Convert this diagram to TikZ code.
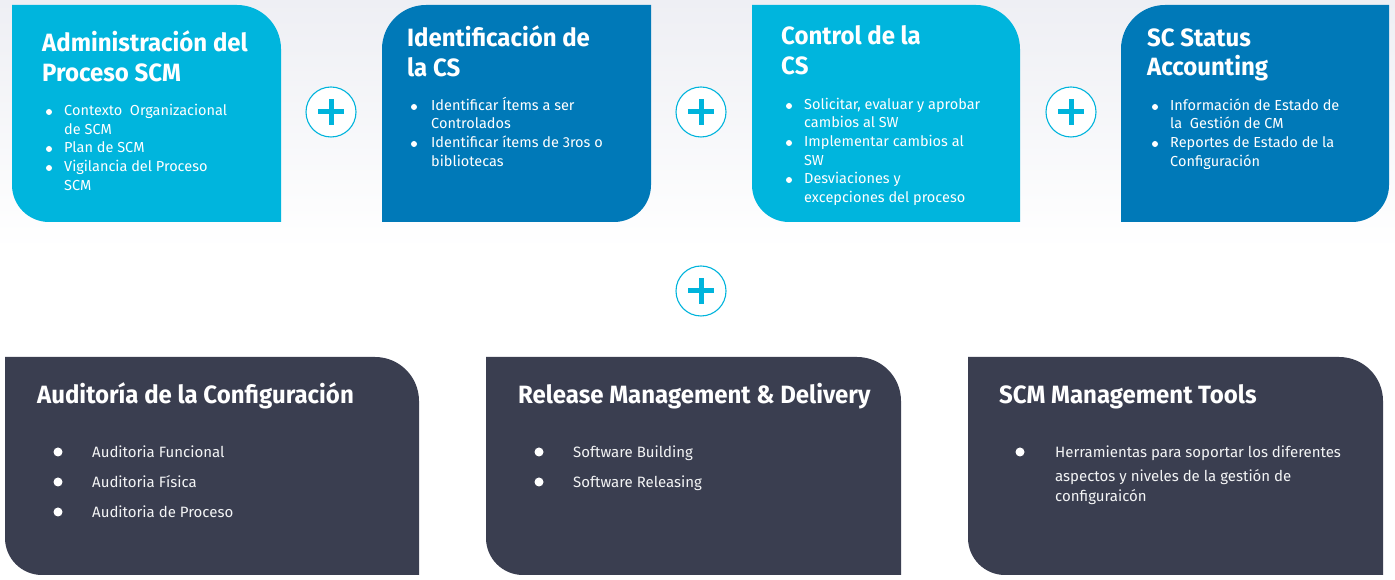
\documentclass[tikz,border=0pt]{standalone}
\usepackage{fontspec}
\setmainfont{Fira Sans}
\newfontfamily\headfont{Fira Sans}[FakeStretch=0.96]
\newfontfamily\bodyfont{Fira Sans}[FakeStretch=1.0]

\definecolor{cyanbox}{RGB}{0,181,221}
\definecolor{bluebox}{RGB}{0,121,184}
\definecolor{darkbox}{RGB}{58,62,80}
\definecolor{plusblue}{RGB}{0,180,220}
\definecolor{bgtop}{RGB}{238,239,244}

\tikzset{
  headtxt/.style={anchor=base west, inner sep=0pt, text=white, font=\headfont\bfseries\fontsize{25}{30}\selectfont},
  toptxt/.style={anchor=base west, inner sep=0pt, text=white, font=\bodyfont\fontsize{14.5}{18.8}\selectfont},
  lowtxt/.style={anchor=base west, inner sep=0pt, text=white!94!darkbox, font=\bodyfont\fontsize{15}{20}\selectfont},
  plusring/.style={circle, draw=plusblue, line width=1.1pt, fill=white, minimum size=50pt, inner sep=0pt},
  plusbar/.style={draw=plusblue, line width=5pt},
}

% box with rounded top-right and bottom-left corners: L, B, R, T, colour
\newcommand\boxTRBL[5]{%
  \fill[#5] (#1,#4) -- ([xshift=-44pt]#3,#4) arc[start angle=90,end angle=0,radius=44pt]
    -- (#3,#2) -- ([xshift=37pt]#1,#2) arc[start angle=270,end angle=180,radius=37pt] -- cycle;}
% box with rounded top-left and bottom-right corners: L, B, R, T, colour
\newcommand\boxTLBR[5]{%
  \fill[#5] (#1,#2) -- ([yshift=-44pt]#1,#4) arc[start angle=180,end angle=90,radius=44pt]
    -- (#3,#4) -- ([yshift=37pt]#3,#2) arc[start angle=0,end angle=-90,radius=37pt] -- cycle;}
% plus sign inside a ring
\newcommand\plusmark[3]{%
  \node[plusring] (#1) at (#2,#3) {};
  \draw[plusbar] ([xshift=-13pt]#1.center) -- ([xshift=13pt]#1.center);
  \draw[plusbar] ([yshift=-13pt]#1.center) -- ([yshift=13pt]#1.center);}

\begin{document}
\begin{tikzpicture}[x=1pt,y=1pt]
\useasboundingbox (0,0) rectangle (1395,580);
\fill[white] (0,0) rectangle (1395,580);
\shade[top color=bgtop, bottom color=white] (0,330) rectangle (1395,580);

% ---- upper row ----
\boxTRBL{12}{358}{281}{575}{cyanbox}
\boxTLBR{382}{358}{651}{575}{bluebox}
\boxTRBL{752}{358}{1020}{575}{cyanbox}
\boxTLBR{1121}{358}{1389}{575}{bluebox}

% Administracion del Proceso SCM
\node[headtxt] (h1a) at (42,528) {Administración del};
\node[headtxt] (h1b) at (42,498) {Proceso SCM};
\fill[white] (49,468) circle (3pt) (49,431) circle (3pt) (49,412) circle (3pt);
\node[toptxt] (a1) at (64,464) {Contexto\ \ Organizacional};
\node[toptxt] (a2) at (64,445) {de SCM};
\node[toptxt] (a3) at (64,427) {Plan de SCM};
\node[toptxt] (a4) at (64,408) {Vigilancia del Proceso};
\node[toptxt] (a5) at (64,389) {SCM};

% Identificacion de la CS
\node[headtxt] (h2a) at (407,533) {Identificación de};
\node[headtxt] (h2b) at (407,503) {la CS};
\fill[white] (414,473) circle (3pt) (414,436) circle (3pt);
\node[toptxt] (b1) at (431,469) {Identificar Ítems a ser};
\node[toptxt] (b2) at (431,451) {Controlados};
\node[toptxt] (b3) at (431,432) {Identificar ítems de 3ros o};
\node[toptxt] (b4) at (431,413) {bibliotecas};

% Control de la CS
\node[headtxt] (h3a) at (781,535) {Control de la};
\node[headtxt] (h3b) at (781,505) {CS};
\fill[white] (789,474) circle (3pt) (789,437) circle (3pt) (789,400) circle (3pt);
\node[toptxt] (c1) at (804,470) {Solicitar, evaluar y aprobar};
\node[toptxt] (c2) at (804,452) {cambios al SW};
\node[toptxt] (c3) at (804,433) {Implementar cambios al};
\node[toptxt] (c4) at (804,414) {SW};
\node[toptxt] (c5) at (804,396) {Desviaciones y};
\node[toptxt] (c6) at (804,377) {excepciones del proceso};

% SC Status Accounting
\node[headtxt] (h4a) at (1147,533) {SC Status};
\node[headtxt] (h4b) at (1147,504) {Accounting};
\fill[white] (1155,473) circle (3pt) (1155,436) circle (3pt);
\node[toptxt] (d1) at (1170,469) {Información de Estado de};
\node[toptxt] (d2) at (1170,451) {la\ \ Gestión de CM};
\node[toptxt] (d3) at (1170,432) {Reportes de Estado de la};
\node[toptxt] (d4) at (1170,413) {Configuración};

% ---- plus marks ----
\plusmark{p1}{331}{468}
\plusmark{p2}{701}{468}
\plusmark{p3}{1071}{468}
\plusmark{p4}{701}{289}

% ---- lower row ----
\boxTRBL{5}{5}{419}{223}{darkbox}
\boxTRBL{486}{5}{901}{223}{darkbox}
\boxTRBL{968}{5}{1383}{223}{darkbox}

% Auditoria de la Configuracion
\node[headtxt] (h5) at (37,176) {Auditoría de la Configuración};
\fill[white] (58,128) circle (4.5pt) (58,98) circle (4.5pt) (58,68) circle (4.5pt);
\node[lowtxt] (e1) at (92,122) {Auditoria Funcional};
\node[lowtxt] (e2) at (92,92) {Auditoria Física};
\node[lowtxt] (e3) at (92,62) {Auditoria de Proceso};

% Release Management & Delivery
\node[headtxt] (h6) at (518,176) {Release Management \& Delivery};
\fill[white] (539,128) circle (4.5pt) (539,98) circle (4.5pt);
\node[lowtxt] (f1) at (573,122) {Software Building};
\node[lowtxt] (f2) at (573,92) {Software Releasing};

% SCM Management Tools
\node[headtxt] (h7) at (999,176) {SCM Management Tools};
\fill[white] (1020,128) circle (4.5pt);
\node[lowtxt] (g1) at (1055,122) {Herramientas para soportar los diferentes};
\node[lowtxt] (g2) at (1055,98) {aspectos y niveles de la gestión de};
\node[lowtxt] (g3) at (1055,78) {configuraicón};
\end{tikzpicture}
\end{document}
